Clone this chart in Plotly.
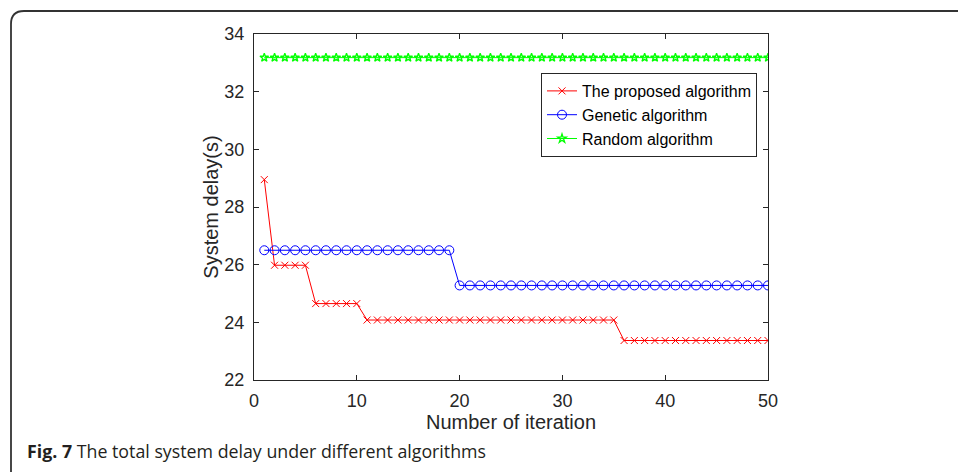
import plotly.graph_objects as go

# ---------------- data ----------------
iterations = [1, 2, 3, 4, 5, 6, 7, 8, 9, 10,
              11, 12, 13, 14, 15, 16, 17, 18, 19, 20,
              21, 22, 23, 24, 25, 26, 27, 28, 29, 30,
              31, 32, 33, 34, 35, 36, 37, 38, 39, 40,
              41, 42, 43, 44, 45, 46, 47, 48, 49, 50]

proposed = [28.95, 25.98, 25.98, 25.98, 25.98, 24.65, 24.65, 24.65, 24.65, 24.65,
            24.08, 24.08, 24.08, 24.08, 24.08, 24.08, 24.08, 24.08, 24.08, 24.08,
            24.08, 24.08, 24.08, 24.08, 24.08, 24.08, 24.08, 24.08, 24.08, 24.08,
            24.08, 24.08, 24.08, 24.08, 24.08, 23.37, 23.37, 23.37, 23.37, 23.37,
            23.37, 23.37, 23.37, 23.37, 23.37, 23.37, 23.37, 23.37, 23.37, 23.37]

genetic = [26.50, 26.50, 26.50, 26.50, 26.50, 26.50, 26.50, 26.50, 26.50, 26.50,
           26.50, 26.50, 26.50, 26.50, 26.50, 26.50, 26.50, 26.50, 26.50, 25.28,
           25.28, 25.28, 25.28, 25.28, 25.28, 25.28, 25.28, 25.28, 25.28, 25.28,
           25.28, 25.28, 25.28, 25.28, 25.28, 25.28, 25.28, 25.28, 25.28, 25.28,
           25.28, 25.28, 25.28, 25.28, 25.28, 25.28, 25.28, 25.28, 25.28, 25.28]

random_alg = [33.18, 33.18, 33.18, 33.18, 33.18, 33.18, 33.18, 33.18, 33.18, 33.18,
              33.18, 33.18, 33.18, 33.18, 33.18, 33.18, 33.18, 33.18, 33.18, 33.18,
              33.18, 33.18, 33.18, 33.18, 33.18, 33.18, 33.18, 33.18, 33.18, 33.18,
              33.18, 33.18, 33.18, 33.18, 33.18, 33.18, 33.18, 33.18, 33.18, 33.18,
              33.18, 33.18, 33.18, 33.18, 33.18, 33.18, 33.18, 33.18, 33.18, 33.18]

series_names = ["The proposed algorithm", "Genetic algorithm", "Random algorithm"]
x_ticks = [0, 10, 20, 30, 40, 50]
y_ticks = [22, 24, 26, 28, 30, 32, 34]
x_title = "Number of iteration"
y_title = "System delay(s)"
caption_bold = "Fig. 7"
caption_text = "The total system delay under different algorithms"

# ---------------- layout geometry (pixels) ----------------
W, H = 958, 472
L, R, T, B = 254, 768, 34, 380   # plot area edges in pixels


def px(X):
    return (X - L) / (R - L)


def py(Y):
    return (B - Y) / (B - T)


AX = "#262626"
FONT = "Liberation Sans, Arial, sans-serif"

fig = go.Figure()
fig.add_trace(go.Scatter(
    x=iterations, y=proposed, name=series_names[0], mode="lines+markers",
    line=dict(color="#ff0000", width=1),
    marker=dict(symbol="x-thin-open", size=7, color="#ff0000",
                line=dict(color="#ff0000", width=1))))
fig.add_trace(go.Scatter(
    x=iterations, y=genetic, name=series_names[1], mode="lines+markers",
    line=dict(color="#0000ff", width=1),
    marker=dict(symbol="circle-open", size=9, color="#0000ff",
                line=dict(color="#0000ff", width=1))))
fig.add_trace(go.Scatter(
    x=iterations, y=random_alg, name=series_names[2], mode="lines+markers",
    line=dict(color="#00ff00", width=1),
    marker=dict(symbol="star-open", size=6.5, color="#00ff00",
                line=dict(color="#00ff00", width=1.3))))

axis_common = dict(
    showgrid=False, zeroline=False, showline=True, linecolor=AX, linewidth=1,
    mirror="ticks", ticks="inside", ticklen=5, tickcolor=AX, tickwidth=1,
    tickfont=dict(family=FONT, size=18, color=AX),
)

fig.update_xaxes(range=[0, 50], tickvals=x_ticks, ticktext=[str(v) for v in x_ticks],
                 title=dict(text=x_title, font=dict(family=FONT, size=20, color=AX), standoff=4),
                 ticklabelstandoff=4, **axis_common)
fig.update_yaxes(range=[22, 34], tickvals=y_ticks, ticktext=[str(v) for v in y_ticks],
                 title=dict(text=y_title, font=dict(family=FONT, size=20, color=AX), standoff=0),
                 ticklabelstandoff=5, **axis_common)

# rounded frame around the whole figure (extends past right/bottom edges)
fx0, fy0, rad = 11, 11, 13
frame_path = (f"M {px(fx0)},{py(H + 20)} L {px(fx0)},{py(fy0 + rad)} "
              f"Q {px(fx0)},{py(fy0)} {px(fx0 + rad)},{py(fy0)} L {px(W + 20)},{py(fy0)}")

fig.update_layout(
    width=W, height=H,
    margin=dict(l=L, r=W - R, t=T, b=H - B),
    paper_bgcolor="white", plot_bgcolor="white",
    showlegend=True,
    legend=dict(
        x=px(757), y=py(73), xanchor="right", yanchor="top",
        bgcolor="white", bordercolor=AX, borderwidth=1,
        font=dict(family=FONT, size=16, color="black"),
        itemwidth=30, tracegroupgap=0,
    ),
    shapes=[dict(type="path", xref="paper", yref="paper", path=frame_path,
                 line=dict(color="#333333", width=1.8), layer="above")],
    annotations=[dict(
        xref="paper", yref="paper", x=px(25), y=py(451), xanchor="left", yanchor="middle",
        text=f"<b>{caption_bold}</b> {caption_text}", showarrow=False,
        font=dict(family="Open Sans, Noto Sans, sans-serif", size=17.8, color="#231f20"))],
)

fig.write_html("out.html", config={"displayModeBar": False},
               post_script="document.body.style.margin='0';document.body.style.overflow='hidden';")
